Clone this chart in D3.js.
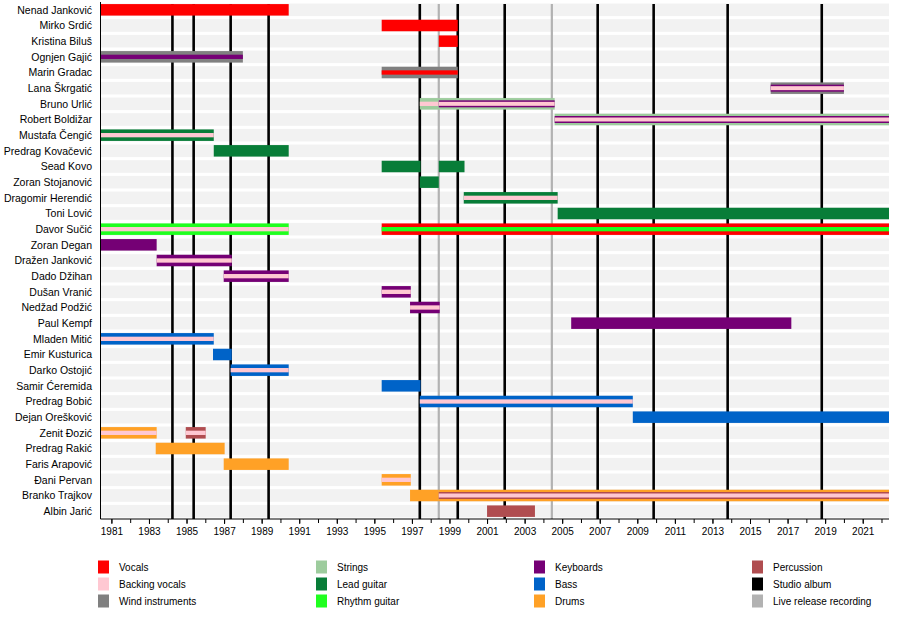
<!DOCTYPE html>
<html>
<head>
<meta charset="utf-8">
<script src="https://cdn.jsdelivr.net/npm/d3@7"></script>
<style>
  body { margin: 0; background: #fff; }
  svg { font-family: "Liberation Sans", Arial, sans-serif; }
</style>
</head>
<body>
<svg id="timeline"></svg>
<script>
// band members, top to bottom
const members = [
  "Nenad Janković", "Mirko Srdić", "Kristina Biluš", "Ognjen Gajić", "Marin Gradac",
  "Lana Škrgatić", "Bruno Urlić", "Robert Boldižar", "Mustafa Čengić", "Predrag Kovačević",
  "Sead Kovo", "Zoran Stojanović", "Dragomir Herendić", "Toni Lović", "Davor Sučić",
  "Zoran Degan", "Dražen Janković", "Dado Džihan", "Dušan Vranić", "Nedžad Podžić",
  "Paul Kempf", "Mladen Mitić", "Emir Kusturica", "Darko Ostojić", "Samir Ćeremida",
  "Predrag Bobić", "Dejan Orešković", "Zenit Đozić", "Predrag Rakić", "Faris Arapović",
  "Đani Pervan", "Branko Trajkov", "Albin Jarić"
];

// legend entries
const roleNames = [
  "Vocals", "Backing vocals", "Wind instruments",
  "Strings", "Lead guitar", "Rhythm guitar",
  "Keyboards", "Bass", "Drums",
  "Percussion", "Studio album", "Live release recording"
];
const roleColors = [
  "#ff0000", "#ffc8d2", "#808080",
  "#9dcc9d", "#087d38", "#1fff1f",
  "#750075", "#0063c8", "#ffa126",
  "#b04d50", "#000000", "#b2b2b2"
];

const startDate = 1980.42;
const endDate = 2022.4;

// [member, from, to, roles (outer -> inner)]
const periods = [
  ["Nenad Janković", 1980.42, 1990.44, ["Vocals"]],
  ["Mirko Srdić", 1995.39, 1999.44, ["Vocals"]],
  ["Kristina Biluš", 1998.43, 1999.44, ["Vocals"]],
  ["Ognjen Gajić", 1980.42, 1988.0, ["Wind instruments", "Keyboards"]],
  ["Marin Gradac", 1995.39, 1999.44, ["Wind instruments", "Vocals"]],
  ["Lana Škrgatić", 2016.1, 2020.0, ["Wind instruments", "Keyboards", "Backing vocals"]],
  ["Bruno Urlić", 1997.42, 1998.43, ["Strings", "Backing vocals"]],
  ["Bruno Urlić", 1998.43, 2004.6, ["Strings", "Keyboards", "Backing vocals"]],
  ["Robert Boldižar", 2004.6, 2022.4, ["Strings", "Keyboards", "Backing vocals"]],
  ["Mustafa Čengić", 1980.42, 1986.45, ["Lead guitar", "Backing vocals"]],
  ["Predrag Kovačević", 1986.45, 1990.44, ["Lead guitar"]],
  ["Sead Kovo", 1995.39, 1997.46, ["Lead guitar"]],
  ["Sead Kovo", 1998.43, 1999.8, ["Lead guitar"]],
  ["Zoran Stojanović", 1997.42, 1998.43, ["Lead guitar"]],
  ["Dragomir Herendić", 1999.76, 2004.76, ["Lead guitar", "Backing vocals"]],
  ["Toni Lović", 2004.76, 2022.4, ["Lead guitar"]],
  ["Davor Sučić", 1980.42, 1990.44, ["Rhythm guitar", "Backing vocals"]],
  ["Davor Sučić", 1995.39, 2022.4, ["Vocals", "Rhythm guitar"]],
  ["Zoran Degan", 1980.42, 1983.41, ["Keyboards"]],
  ["Dražen Janković", 1983.41, 1987.41, ["Keyboards", "Backing vocals"]],
  ["Dado Džihan", 1986.98, 1990.44, ["Keyboards", "Backing vocals"]],
  ["Dušan Vranić", 1995.39, 1996.94, ["Keyboards", "Backing vocals"]],
  ["Nedžad Podžić", 1996.9, 1998.48, ["Keyboards", "Backing vocals"]],
  ["Paul Kempf", 2005.48, 2017.2, ["Keyboards"]],
  ["Mladen Mitić", 1980.42, 1986.45, ["Bass", "Backing vocals"]],
  ["Emir Kusturica", 1986.41, 1987.41, ["Bass"]],
  ["Darko Ostojić", 1987.35, 1990.44, ["Bass", "Backing vocals"]],
  ["Samir Ćeremida", 1995.39, 1997.46, ["Bass"]],
  ["Predrag Bobić", 1997.42, 2008.76, ["Bass", "Backing vocals"]],
  ["Dejan Orešković", 2008.76, 2022.4, ["Bass"]],
  ["Zenit Đozić", 1980.42, 1983.41, ["Drums", "Backing vocals"]],
  ["Zenit Đozić", 1984.96, 1986.02, ["Percussion", "Backing vocals"]],
  ["Predrag Rakić", 1983.36, 1987.03, ["Drums"]],
  ["Faris Arapović", 1986.98, 1990.44, ["Drums"]],
  ["Đani Pervan", 1995.39, 1996.94, ["Drums", "Backing vocals"]],
  ["Branko Trajkov", 1996.9, 1998.43, ["Drums"]],
  ["Branko Trajkov", 1998.43, 2022.4, ["Drums", "Percussion", "Backing vocals"]],
  ["Albin Jarić", 2001.0, 2003.55, ["Percussion"]]
];

// release dates (decimal years)
const studioAlbums = [1984.25, 1985.38, 1987.35, 1989.37, 1997.42, 1999.44, 2001.94, 2006.89, 2009.87, 2013.81, 2018.82];
const liveAlbums = [1998.43, 2004.45];

const majorTicks = d3.range(1981, 2022, 2);
const minorTicks = d3.range(1981, 2023, 1);

const width = 900, height = 637;
const plotLeft = 100.5, plotRight = 889, plotTop = 2, plotBottom = 519;

const svg = d3.select("#timeline")
  .attr("width", width)
  .attr("height", height);

const color = d3.scaleOrdinal().domain(roleNames).range(roleColors);
const x = d3.scaleLinear().domain([startDate, endDate]).range([plotLeft, plotRight]);
const y = d3.scaleBand().domain(members).range([plotTop, plotBottom]);
const barH = 11.5;

// row background stripes
svg.append("g")
  .selectAll("rect")
  .data(members)
  .join("rect")
  .attr("x", plotLeft)
  .attr("width", plotRight - plotLeft)
  .attr("y", d => y(d) + y.bandwidth() / 2 - 6.3)
  .attr("height", 12.6)
  .attr("fill", "#f2f2f2");

// album lines go behind the bars
const lines = svg.append("g");
lines.selectAll(".studio")
  .data(studioAlbums)
  .join("line")
  .attr("class", "studio")
  .attr("x1", d => x(d)).attr("x2", d => x(d))
  .attr("y1", 4).attr("y2", plotBottom)
  .attr("stroke", color("Studio album"))
  .attr("stroke-width", 2.6);
lines.selectAll(".live")
  .data(liveAlbums)
  .join("line")
  .attr("class", "live")
  .attr("x1", d => x(d)).attr("x2", d => x(d))
  .attr("y1", 4).attr("y2", plotBottom)
  .attr("stroke", color("Live release recording"))
  .attr("stroke-width", 2.2);

// each period: outer role full height, next roles narrower stripes
const layerHeights = {
  1: [barH],
  2: [barH, 4.3],
  3: [barH, 7, 4]
};
const layers = [];
periods.forEach(p => {
  const hs = layerHeights[p[3].length];
  p[3].forEach((role, i) => layers.push({ member: p[0], from: p[1], to: p[2], role, h: hs[i] }));
});

svg.append("g")
  .selectAll("rect")
  .data(layers)
  .join("rect")
  .attr("x", d => x(d.from))
  .attr("width", d => x(d.to) - x(d.from))
  .attr("y", d => y(d.member) + y.bandwidth() / 2 - d.h / 2)
  .attr("height", d => d.h)
  .attr("fill", d => color(d.role));

// member names
svg.append("g")
  .selectAll("text")
  .data(members)
  .join("text")
  .attr("x", 92)
  .attr("y", d => y(d) + y.bandwidth() / 2)
  .attr("dy", "0.35em")
  .attr("text-anchor", "end")
  .attr("font-size", 10.5)
  .text(d => d);

// left edge
svg.append("line")
  .attr("x1", plotLeft).attr("x2", plotLeft)
  .attr("y1", plotTop).attr("y2", plotBottom)
  .attr("stroke", "#000").attr("stroke-width", 1);

// time axis
const axis = svg.append("g").attr("transform", `translate(0,${plotBottom})`);
axis.call(d3.axisBottom(x).tickValues(minorTicks).tickSize(4).tickFormat(""))
  .call(g => g.select(".domain").remove());
axis.append("g")
  .call(d3.axisBottom(x).tickValues(majorTicks).tickSize(5).tickFormat(d3.format("d")))
  .call(g => g.select(".domain").remove())
  .call(g => g.selectAll("text").attr("font-size", 10).attr("font-family", "Liberation Sans, Arial, sans-serif").attr("dy", "0.75em"));
axis.append("line")
  .attr("x1", plotLeft).attr("x2", plotRight)
  .attr("stroke", "#000");

// legend, 3 entries per column
const legendX = [98, 316, 534, 752];
const legendY = [567, 584, 601];
const legend = svg.append("g")
  .selectAll("g")
  .data(roleNames)
  .join("g")
  .attr("transform", (d, i) => `translate(${legendX[Math.floor(i / 3)]},${legendY[i % 3]})`);
legend.append("rect")
  .attr("x", 0).attr("y", -6.5)
  .attr("width", 11).attr("height", 13)
  .attr("fill", d => color(d));
legend.append("text")
  .attr("x", 21)
  .attr("dy", "0.35em")
  .attr("font-size", 10)
  .attr("font-family", "'Liberation Sans Narrow', 'Arial Narrow', 'Liberation Sans', sans-serif")
  .text(d => d);
</script>
</body>
</html>
